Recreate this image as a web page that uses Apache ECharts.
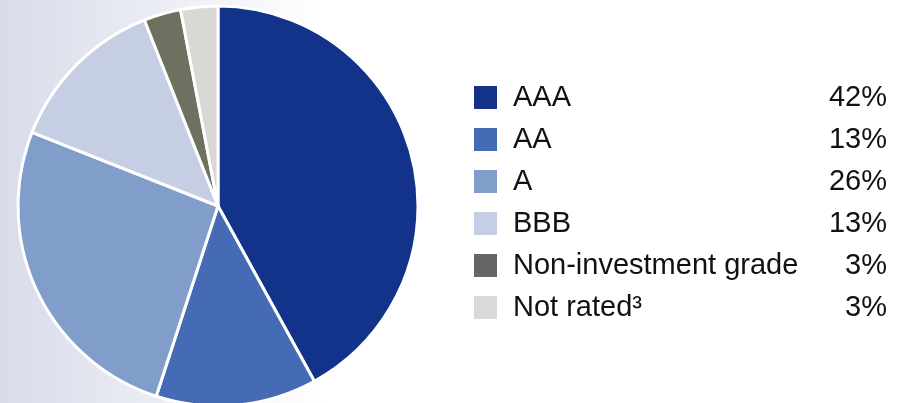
<!DOCTYPE html>
<html>
<head>
<meta charset="utf-8">
<script src="https://cdn.jsdelivr.net/npm/echarts@6/dist/echarts.min.js"></script>
<style>
  html, body { margin: 0; padding: 0; }
  #chart { width: 900px; height: 403px; }
</style>
</head>
<body>
<div id="chart"></div>
<script>
// data
let ratings = ['AAA', 'AA', 'A', 'BBB', 'Non-investment grade', 'Not rated³'];
let shares = [42, 13, 26, 13, 3, 3];
let sliceColors = ['#13338a', '#446bb3', '#819ecb', '#c5cee2', '#6e715f', '#d8d9d4'];
let legendColors = ['#13338a', '#446bb3', '#819ecb', '#c5cee2', '#666666', '#d9d9d9'];

let myChart = echarts.init(document.getElementById('chart'));

let pieData = [];
let legendArr = [];
for (let i = 0; i < ratings.length; i++) {
    pieData.push({
        name: ratings[i],
        value: shares[i],
        itemStyle: { color: sliceColors[i] }
    });
    legendArr.push({
        name: ratings[i],
        icon: 'rect',
        itemStyle: { color: legendColors[i], borderWidth: 0 }
    });
}

let option = {
    backgroundColor: {
        type: 'linear', x: 0, y: 0, x2: 1, y2: 0,
        colorStops: [
            { offset: 0, color: '#d8dce9' },
            { offset: 0.36, color: '#ffffff' },
            { offset: 1, color: '#ffffff' }
        ]
    },
    animation: false,
    legend: {
        orient: 'vertical',
        left: 469,
        top: 78,
        itemWidth: 23,
        itemHeight: 23,
        itemGap: 13,
        selectedMode: false,
        data: legendArr,
        formatter: function (name) {
            let idx = ratings.indexOf(name);
            return '{n|' + name + '}{v|' + shares[idx] + '%}';
        },
        textStyle: {
            rich: {
                n: {
                    fontFamily: 'Liberation Sans, Arial, sans-serif',
                    fontSize: 29,
                    color: '#111111',
                    width: 304,
                    lineHeight: 31,
                    padding: [0, 0, 0, 11],
                    align: 'left'
                },
                v: {
                    fontFamily: 'Liberation Sans, Arial, sans-serif',
                    fontSize: 29,
                    color: '#111111',
                    width: 70,
                    lineHeight: 31,
                    align: 'right'
                }
            }
        }
    },
    series: [{
        type: 'pie',
        center: [218, 206],
        radius: 200,
        startAngle: 90,
        clockwise: true,
        label: { show: false },
        labelLine: { show: false },
        emphasis: { disabled: true },
        itemStyle: {
            borderColor: '#ffffff',
            borderWidth: 3
        },
        data: pieData
    }]
};
myChart.setOption(option);
</script>
</body>
</html>
